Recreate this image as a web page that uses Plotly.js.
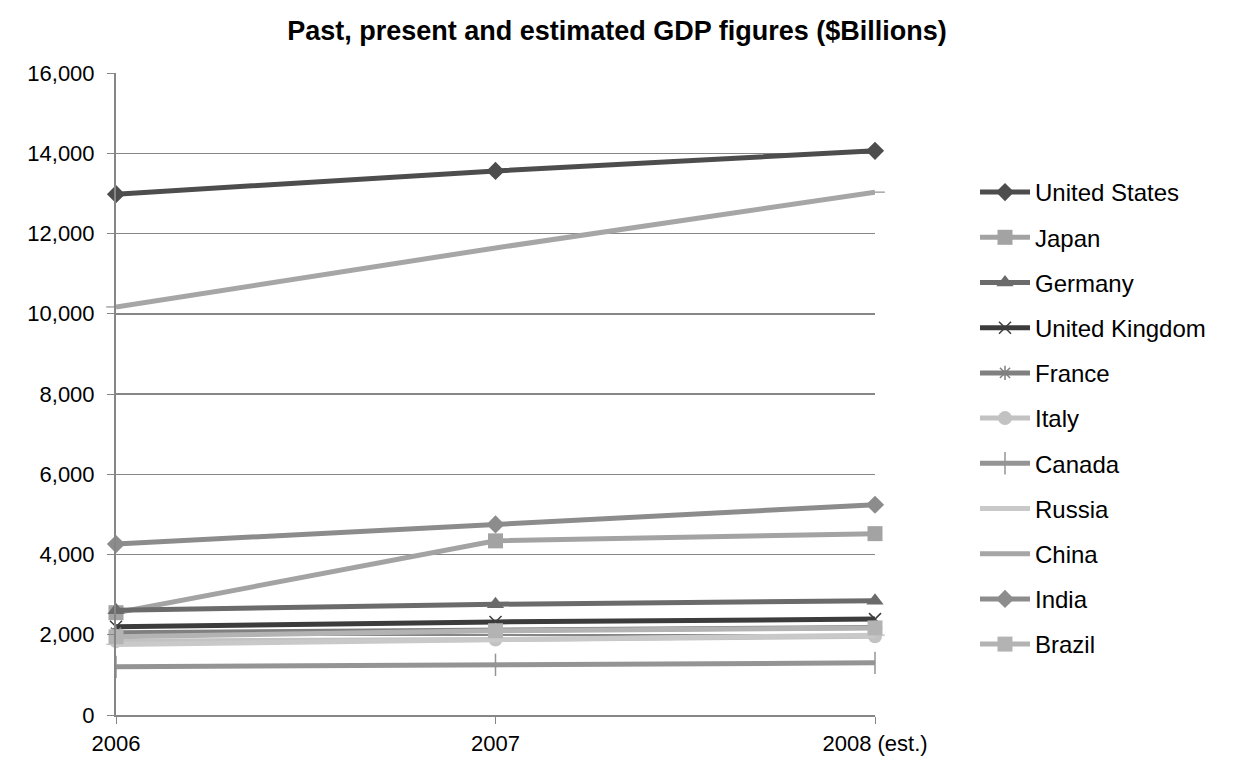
<!DOCTYPE html>
<html>
<head>
<meta charset="utf-8">
<script src="https://cdn.plot.ly/plotly-3.0.1.min.js"></script>
<style>html,body{margin:0;padding:0;background:#fff;}#chart{width:1236px;height:768px;}</style>
</head>
<body>
<div id="chart"></div>
<script>
const years = ["2006", "2007", "2008 (est.)"];
const countries = ["United States","Japan","Germany","United Kingdom","France","Italy","Canada","Russia","China","India","Brazil"];
const unitedStates = [12980, 13560, 14060];
const japan = [2550, 4340, 4520];
const germany = [2610, 2760, 2850];
const unitedKingdom = [2200, 2320, 2390];
const france = [2050, 2120, 2180];
const italy = [1840, 1880, 1960];
const canada = [1200, 1250, 1300];
const russia = [1760, 1880, 1990];
const china = [10170, 11640, 13030];
const india = [4260, 4750, 5240];
const brazil = [1950, 2100, 2170];

const seriesValues = [unitedStates, japan, germany, unitedKingdom, france, italy, canada, russia, china, india, brazil];
const colors = ["#4d4d4d","#a3a3a3","#6b6b6b","#3c3c3c","#808080","#c2c2c2","#949494","#c9c9c9","#a6a6a6","#8c8c8c","#b3b3b3"];
const symbols = ["diamond","square","triangle-up","x-thin-open","asterisk-open","circle","line-ns-open","line-ew-open","line-ew-open","diamond","square"];
const sizes = [14,15,15,12,12,14,16,14,14,14,15];

const FONT = "Arial, 'Liberation Sans', sans-serif";

const traces = countries.map((name, i) => ({
  type: "scatter",
  mode: "lines+markers",
  name: name,
  x: years,
  y: seriesValues[i],
  legendgroup: "g" + i,
  cliponaxis: false,
  line: {color: colors[i], width: 5},
  marker: {
    symbol: symbols[i],
    size: sizes[i],
    color: colors[i],
    line: {color: colors[i], width: (symbols[i].indexOf("open") >= 0) ? 1.5 : 0}
  }
}));

const layout = {
  width: 1236,
  height: 768,
  paper_bgcolor: "#ffffff",
  plot_bgcolor: "#ffffff",
  font: {family: FONT, size: 22, color: "#000"},
  margin: {l: 116, r: 361, t: 73, b: 53},
  title: {
    text: "<b>Past, present and estimated GDP figures ($Billions)</b>",
    font: {family: FONT, size: 27, color: "#000"},
    x: 617 / 1236, xref: "container", xanchor: "center",
    y: 1 - 31 / 768, yref: "container", yanchor: "middle"
  },
  xaxis: {
    type: "category",
    range: [0, 2],
    showgrid: false,
    showline: true,
    linecolor: "#868686",
    linewidth: 2,
    ticks: "outside",
    ticklen: 7,
    tickwidth: 1,
    tickcolor: "#868686",
    ticklabelstandoff: 1,
    tickfont: {family: FONT, size: 22, color: "#000"},
    zeroline: false,
    fixedrange: true
  },
  yaxis: {
    range: [0, 16000],
    tickvals: [0,2000,4000,6000,8000,10000,12000,14000,16000],
    tickformat: ",d",
    showgrid: true,
    gridcolor: "#868686",
    gridwidth: 1.5,
    showline: true,
    linecolor: "#868686",
    linewidth: 2,
    ticks: "outside",
    ticklen: 7,
    tickcolor: "#868686",
    ticklabelstandoff: 8,
    tickfont: {family: FONT, size: 22, color: "#000"},
    zeroline: false,
    fixedrange: true
  },
  legend: {
    font: {family: FONT, size: 24, color: "#000"},
    traceorder: "grouped",
    tracegroupgap: 11,
    itemwidth: 50,
    bgcolor: "rgba(0,0,0,0)",
    xanchor: "left",
    yanchor: "top"
  },
  showlegend: true
};
layout.legend.x = 1.0 + (975 - 875) / 759;
layout.legend.y = 1 - (170 - 73) / 642;

Plotly.newPlot("chart", traces, layout, {displayModeBar: false, staticPlot: true});
</script>
</body>
</html>
